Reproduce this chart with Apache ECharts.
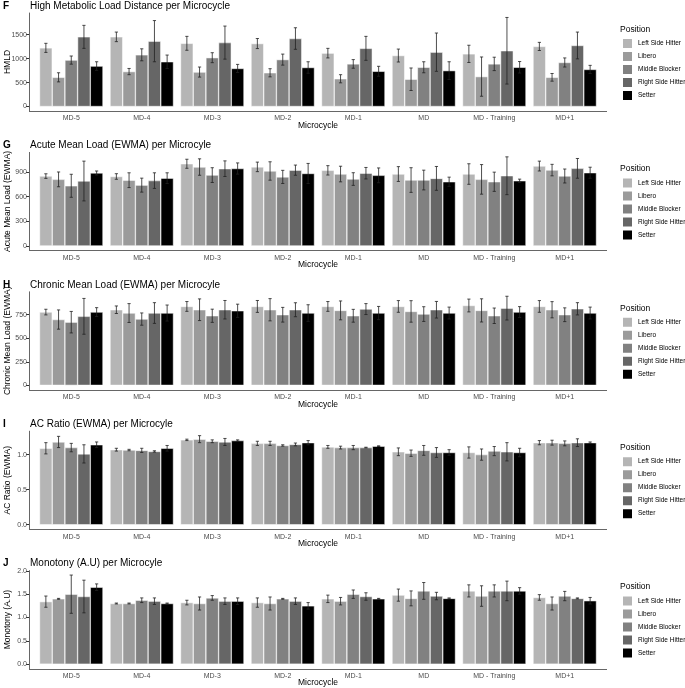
<!DOCTYPE html>
<html>
<head>
<meta charset="utf-8">
<script src="https://cdn.jsdelivr.net/npm/echarts@6/dist/echarts.min.js"></script>
<style>
  html, body { margin: 0; padding: 0; background: #fff; }
  #chart { width: 685px; height: 688px; }
</style>
</head>
<body>
<div id="chart"></div>
<script>
// categories
const microcycles = ['MD-5', 'MD-4', 'MD-3', 'MD-2', 'MD-1', 'MD', 'MD - Training', 'MD+1'];
const positions = ['Left Side Hitter', 'Libero', 'Middle Blocker', 'Right Side Hitter', 'Setter'];
const positionColors = ['#b5b5b5', '#9b9b9b', '#818181', '#666666', '#000000'];

// rows = positions (same order as above), columns = microcycles
const hmldMean = [
  [1225, 1455, 1320, 1315, 1115, 1065, 1100, 1255],
  [610, 730, 720, 705, 580, 570, 625, 610],
  [970, 1080, 1020, 980, 890, 820, 890, 920],
  [1455, 1365, 1335, 1420, 1215, 1135, 1165, 1275],
  [845, 935, 795, 815, 736, 750, 820, 775]
];
const hmldSd = [
  [95, 100, 145, 105, 100, 135, 180, 85],
  [95, 65, 105, 85, 85, 235, 410, 80],
  [85, 125, 104, 115, 90, 115, 140, 95],
  [240, 430, 345, 225, 250, 400, 695, 280],
  [90, 140, 85, 120, 104, 185, 120, 85]
];

const acuteMean = [
  [850, 845, 1000, 962, 920, 875, 875, 972],
  [810, 800, 960, 912, 875, 802, 810, 923],
  [732, 740, 862, 840, 814, 802, 781, 851],
  [790, 795, 940, 922, 885, 822, 854, 944],
  [888, 825, 942, 882, 859, 781, 793, 891]
];
const acuteSd = [
  [28, 34, 55, 58, 57, 90, 125, 60],
  [90, 90, 100, 112, 95, 150, 180, 70],
  [140, 85, 90, 80, 77, 120, 117, 85],
  [242, 95, 95, 62, 70, 145, 230, 120],
  [24, 65, 68, 122, 90, 56, 20, 67]
];

const chronicMean = [
  [777, 802, 837, 837, 837, 837, 847, 837],
  [698, 767, 802, 802, 795, 784, 795, 802],
  [670, 703, 738, 749, 738, 756, 738, 749],
  [732, 767, 802, 802, 809, 802, 819, 812],
  [777, 767, 791, 767, 767, 767, 777, 767]
];
const chronicSd = [
  [30, 40, 52, 63, 52, 62, 68, 62],
  [102, 100, 115, 118, 100, 114, 123, 86],
  [114, 65, 70, 78, 68, 78, 82, 73],
  [190, 110, 98, 74, 58, 88, 126, 65],
  [47, 85, 70, 88, 70, 63, 58, 63]
];

const acRatioMean = [
  [1.09, 1.07, 1.21, 1.16, 1.11, 1.04, 1.03, 1.17],
  [1.18, 1.065, 1.22, 1.16, 1.10, 1.02, 1.00, 1.17],
  [1.10, 1.06, 1.19, 1.13, 1.10, 1.06, 1.05, 1.16],
  [1.01, 1.045, 1.18, 1.145, 1.10, 1.03, 1.04, 1.17],
  [1.14, 1.09, 1.20, 1.17, 1.12, 1.03, 1.03, 1.17]
];
const acRatioSd = [
  [0.08, 0.02, 0.01, 0.03, 0.02, 0.055, 0.08, 0.03],
  [0.08, 0.01, 0.05, 0.03, 0.02, 0.045, 0.08, 0.035],
  [0.06, 0.03, 0.02, 0.01, 0.03, 0.07, 0.065, 0.035],
  [0.13, 0.01, 0.05, 0.02, 0.005, 0.07, 0.13, 0.055],
  [0.04, 0.04, 0.01, 0.03, 0.005, 0.04, 0.06, 0.01]
];

const monotonyMean = [
  [1.34, 1.30, 1.32, 1.32, 1.40, 1.48, 1.57, 1.43],
  [1.40, 1.30, 1.30, 1.30, 1.35, 1.41, 1.46, 1.30],
  [1.50, 1.37, 1.42, 1.40, 1.50, 1.57, 1.57, 1.46],
  [1.45, 1.35, 1.35, 1.35, 1.45, 1.46, 1.57, 1.41],
  [1.65, 1.30, 1.35, 1.25, 1.40, 1.41, 1.57, 1.36]
];
const monotonySd = [
  [0.12, 0.01, 0.05, 0.10, 0.08, 0.13, 0.13, 0.06],
  [0.01, 0.01, 0.14, 0.14, 0.08, 0.16, 0.22, 0.14],
  [0.41, 0.05, 0.05, 0.01, 0.09, 0.18, 0.13, 0.10],
  [0.35, 0.07, 0.07, 0.07, 0.08, 0.08, 0.21, 0.01],
  [0.07, 0.01, 0.07, 0.07, 0.01, 0.01, 0.07, 0.07]
];

// y tick labels
const hmldTicks = [0, 500, 1000, 1500];
const acuteTicks = [0, 300, 600, 900];
const chronicTicks = [0, 250, 500, 750];
const acRatioTicks = [0, 0.5, 1.0];
const monotonyTicks = [0, 0.5, 1.0, 1.5, 2.0];

const panels = [
  { letter: 'F', title: 'High Metabolic Load Distance per Microcycle', yName: 'HMLD', mean: hmldMean, sd: hmldSd, ticks: hmldTicks, dec: 0 },
  { letter: 'G', title: 'Acute Mean Load (EWMA) per Microcyle', yName: 'Acute Mean Load (EWMA)', mean: acuteMean, sd: acuteSd, ticks: acuteTicks, dec: 0 },
  { letter: 'H', title: 'Chronic Mean Load (EWMA) per Microcyle', yName: 'Chronic Mean Load (EWMA)', mean: chronicMean, sd: chronicSd, ticks: chronicTicks, dec: 0 },
  { letter: 'I', title: 'AC Ratio (EWMA) per Microcyle', yName: 'AC Ratio (EWMA)', mean: acRatioMean, sd: acRatioSd, ticks: acRatioTicks, dec: 1 },
  { letter: 'J', title: 'Monotony (A.U) per Microcyle', yName: 'Monotony (A.U)', mean: monotonyMean, sd: monotonySd, ticks: monotonyTicks, dec: 1 }
];

const STEP = 139.4;
const GRID_TOP = 13;
const GRID_H = 98;

// error bars, dodged like the bars (5 bars sharing 90% of the band)
function renderErr (params, api) {
  const c = api.value(0);
  const p = api.value(1);
  const lo = api.coord([c, api.value(2)]);
  const hi = api.coord([c, api.value(3)]);
  const bw = api.size([1, 0])[0] * 0.9 / 5;
  const x = lo[0] + (p - 2) * bw;
  const cap = 1.6;
  const style = { stroke: '#222', lineWidth: 0.8 };
  return {
    type: 'group',
    children: [
      { type: 'line', shape: { x1: x, y1: lo[1], x2: x, y2: hi[1] }, style },
      { type: 'line', shape: { x1: x - cap, y1: hi[1], x2: x + cap, y2: hi[1] }, style },
      { type: 'line', shape: { x1: x - cap, y1: lo[1], x2: x + cap, y2: lo[1] }, style }
    ]
  };
}

const grid = [], xAxis = [], yAxis = [], series = [], title = [], legend = [], graphic = [];

panels.forEach((pn, i) => {
  const top = GRID_TOP + STEP * i;
  const bottom = top + GRID_H;
  // ggplot-like expansion: 5% above the highest error bar, 5% below zero
  let upper = 0;
  pn.mean.forEach((row, p) => row.forEach((v, c) => { upper = Math.max(upper, v + pn.sd[p][c]); }));

  grid.push({ left: 36, right: 85, top: top, height: GRID_H, outerBoundsMode: 'none' });

  xAxis.push({
    type: 'category', gridIndex: i, data: microcycles,
    axisLine: { show: false },
    axisTick: { alignWithLabel: true, length: 3, lineStyle: { color: '#333' } },
    axisLabel: { fontSize: 7, color: '#4d4d4d', margin: 4, interval: 0 },
    name: 'Microcycle', nameLocation: 'middle', nameGap: 10, nameMoveOverlap: false,
    nameTextStyle: { fontSize: 8.5, color: '#000' }
  });

  yAxis.push({
    type: 'value', gridIndex: i, min: -upper * 0.05, max: upper * 1.05, offset: 7,
    axisLine: { show: true, lineStyle: { color: '#666', width: 1 } },
    axisTick: { show: true, length: 3, customValues: pn.ticks, lineStyle: { color: '#333' } },
    axisLabel: {
      customValues: pn.ticks, fontSize: 7, color: '#4d4d4d', margin: 2,
      formatter: v => v.toFixed(pn.dec)
    },
    splitLine: { show: false },
    name: pn.yName, nameLocation: 'middle', nameRotate: 90, nameGap: 17, nameMoveOverlap: false,
    nameTextStyle: { fontSize: 8.5, color: '#000' }
  });

  positions.forEach((pos, p) => {
    series.push({
      type: 'bar', name: pos, xAxisIndex: i, yAxisIndex: i,
      data: pn.mean[p],
      barGap: '0%', barCategoryGap: '10%',
      itemStyle: { color: positionColors[p], borderColor: '#fff', borderWidth: 0.5 },
      emphasis: { disabled: true },
      animation: false
    });
  });

  const errData = [];
  pn.mean.forEach((row, p) => row.forEach((v, c) => {
    errData.push([c, p, v - pn.sd[p][c], v + pn.sd[p][c]]);
  }));
  series.push({
    type: 'custom', name: 'err' + i, xAxisIndex: i, yAxisIndex: i,
    data: errData, renderItem: renderErr, encode: { x: 0, y: [2, 3] },
    z: 5, silent: true, animation: false
  });

  const titleTop = 1 + STEP * i;
  title.push({
    text: pn.letter, left: 3, top: titleTop, padding: 0,
    textStyle: { fontSize: 10, fontWeight: 'bold', color: '#000' }
  });
  title.push({
    text: pn.title, left: 30, top: titleTop, padding: 0,
    textStyle: { fontSize: 10, fontWeight: 'normal', color: '#000' }
  });
  title.push({
    text: 'Position', left: 620, top: 25 + STEP * i, padding: 0,
    textStyle: { fontSize: 8.5, fontWeight: 'normal', color: '#000' }
  });

  legend.push({
    data: positions, orient: 'vertical', left: 621, top: 37 + STEP * i,
    itemWidth: 11, itemHeight: 11, itemGap: 0, icon: 'rect', padding: 0,
    selectedMode: false,
    textStyle: { fontSize: 6.5, color: '#000', lineHeight: 11 }
  });

  // x axis line spans the whole expanded panel width like ggplot
  const yl = Math.round(bottom) + 0.5;
  graphic.push({
    type: 'line', silent: true,
    shape: { x1: 29, y1: yl, x2: 607, y2: yl },
    style: { stroke: '#666', lineWidth: 1 }
  });
});

const chart = echarts.init(document.getElementById('chart'));
chart.setOption({
  backgroundColor: '#fff',
  animation: false,
  textStyle: { fontFamily: 'Liberation Sans, Arial, sans-serif' },
  title, legend, grid, xAxis, yAxis, series, graphic
});
</script>
</body>
</html>
